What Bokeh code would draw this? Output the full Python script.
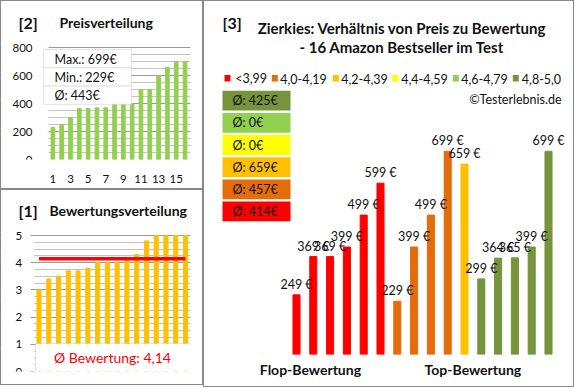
from bokeh.plotting import figure
from bokeh.models import Range1d, FixedTicker, Label, LabelSet, BoxAnnotation, ColumnDataSource
from bokeh.layouts import row, column
from bokeh.embed import file_html
from bokeh.resources import INLINE
from bokeh.core.properties import value

# ---------------- data ----------------
rank = list(range(1, 17))
prices_sorted = [229, 249, 299, 364, 365, 369, 369, 399, 399, 399, 499, 499, 599, 659, 699, 699]
ratings_sorted = [3.0, 3.4, 3.5, 3.7, 3.7, 3.8, 4.0, 4.0, 4.0, 4.1, 4.3, 4.8, 5.0, 5.0, 5.0, 5.0]
price_ticks = [0, 200, 400, 600, 800]
rank_ticks = [1, 3, 5, 7, 9, 11, 13, 15]
rating_ticks = [0, 1, 2, 3, 4, 5]

group_labels = ["<3,99", "4,0-4,19", "4,2-4,39", "4,4-4,59", "4,6-4,79", "4,8-5,0"]
group_colors = ["#FF0000", "#E46C0A", "#FFC000", "#FFFF00", "#92D050", "#77933C"]
main_prices = [249, 369, 369, 399, 499, 599, 229, 399, 499, 699, 659, 299, 364, 365, 399, 699]
main_groups = [0, 0, 0, 0, 0, 0, 1, 1, 1, 1, 2, 5, 5, 5, 5, 5]
axis_names = ["Flop-Bewertung", "Top-Bewertung"]

FONT = "Lato"
TXT = "#111111"
BORDER_CSS = {"border": "1px solid #888888"}


def canvas_label(p, x, y, text, size, bold=False, color=TXT, align="left"):
    p.add_layout(Label(x=x, y=y, x_units="canvas", y_units="canvas", text=text,
                       text_font=FONT, text_font_size=size,
                       text_font_style="bold" if bold else "normal",
                       text_color=color, text_align=align, text_baseline="middle"))


def canvas_box(p, l, r, t, b, fill=None, line="#a6a6a6", lw=1.0, l_units="canvas", level="annotation"):
    kw = dict(fill_color=fill, fill_alpha=1.0 if fill else 0.0,
              line_color=line, line_width=lw, level=level)
    if t is not None:
        kw.update(top=t, top_units="canvas")
    if b is not None:
        kw.update(bottom=b, bottom_units="canvas")
    if l is not None:
        kw.update(left=l, left_units=l_units)
    if r is not None:
        kw.update(right=r, right_units="canvas" if l_units == "canvas" or True else l_units)
    p.add_layout(BoxAnnotation(**kw))


def base_fig(w, h, xr, yr, bl, br, bt, bb, **kw):
    p = figure(width=w, height=h, x_range=xr, y_range=yr, output_backend="svg",
               toolbar_location=None, min_border_left=bl, min_border_right=br,
               min_border_top=bt, min_border_bottom=bb, styles=BORDER_CSS, **kw)
    p.outline_line_color = None
    p.background_fill_color = "white"
    p.border_fill_color = "white"
    return p


def style_axis(ax, size="11.5px", bold=False):
    ax.major_label_text_font = FONT
    ax.major_label_text_font_size = size
    ax.major_label_text_font_style = "bold" if bold else "normal"
    ax.major_label_text_color = TXT
    ax.axis_line_color = None
    ax.minor_tick_line_color = None


def mask_left_of_plot(p, x_edge):
    # white underlay box hiding grid lines left of the plot area (axes are drawn above it)
    p.add_layout(BoxAnnotation(right=x_edge, fill_color="white", fill_alpha=1.0,
                               line_color=None, level="underlay"))


# ---------------- panel [2] Preisverteilung ----------------
W2, H2 = 203, 189
FR_RIGHT = 189                       # frame right edge (both left panels)
B1_PX, B16_PX = 51.4, 183.5          # centres of first / last bar in canvas px
TOPVAL_PX, BOTTOM_PX = 46, 158
step2 = (B16_PX - B1_PX) / 15
x2_start = rank[0] - B1_PX / step2
x2_end = rank[-1] + (FR_RIGHT - B16_PX) / step2
y2_end = price_ticks[-1] * BOTTOM_PX / (BOTTOM_PX - TOPVAL_PX)
p2 = base_fig(W2, H2, Range1d(x2_start, x2_end), Range1d(0, y2_end), 0, W2 - FR_RIGHT, 0, H2 - BOTTOM_PX)
p2.vbar(x=rank, top=prices_sorted, width=0.42, color="#92D050")
yt2 = FixedTicker(ticks=price_ticks, minor_ticks=list(range(0, price_ticks[-1] + 1, 50)))
p2.yaxis.ticker = yt2
p2.ygrid.ticker = yt2
p2.ygrid.grid_line_color = "#9a9a9a"
p2.ygrid.minor_grid_line_color = "#c4c4c4"
p2.xgrid.grid_line_color = None
p2.xaxis.ticker = FixedTicker(ticks=rank_ticks)
for ax in (p2.xaxis[0], p2.yaxis[0]):
    style_axis(ax)
    ax.major_tick_line_color = None
    ax.major_tick_out = 0
    ax.major_tick_in = 0
p2.yaxis.fixed_location = rank[0] - 0.5
p2.yaxis.major_label_standoff = 12
p2.xaxis.major_label_standoff = 15
mask_left_of_plot(p2, rank[0] - 0.5)

canvas_label(p2, 16, 20, "[2]", "16px", bold=True)
canvas_label(p2, 57, 20, "Preisverteilung", "14px", bold=True)
p_max, p_min = max(prices_sorted), min(prices_sorted)
p_avg = int(sum(prices_sorted) / len(prices_sorted) + 0.5)
info = [f"Max.: {p_max}€", f"Min.: {p_min}€", f"Ø: {p_avg}€"]
for i, t in enumerate(info):
    top = 47 + i * 18.3
    canvas_box(p2, 41, 129, top, top + 18.3, fill="white")
    canvas_label(p2, 52, top + 9.5, t, "12.5px")

# ---------------- panel [1] Bewertungsverteilung ----------------
W1, H1 = 203, 196
C1_PX, C16_PX = 37.5, 184.0
TOP5_PX, BOTTOM1_PX = 45, 181
step1 = (C16_PX - C1_PX) / 15
x1_start = rank[0] - C1_PX / step1
x1_end = rank[-1] + (FR_RIGHT - C16_PX) / step1
y1_end = rating_ticks[-1] * BOTTOM1_PX / (BOTTOM1_PX - TOP5_PX)
p1 = base_fig(W1, H1, Range1d(x1_start, x1_end), Range1d(0, y1_end), 0, W1 - FR_RIGHT, 0, H1 - BOTTOM1_PX,
              x_axis_location=None)
p1.vbar(x=rank, top=ratings_sorted, width=0.42, color="#FFC000")
r_avg = sum(ratings_sorted) / len(ratings_sorted)
p1.line(x=[rank[0], rank[-1]], y=[r_avg, r_avg], line_color="#FF0000", line_width=3.5)
yt1 = FixedTicker(ticks=rating_ticks, minor_ticks=[i * 0.25 for i in range(4 * rating_ticks[-1] + 1)])
p1.yaxis.ticker = yt1
p1.ygrid.ticker = yt1
p1.ygrid.grid_line_color = "#9a9a9a"
p1.ygrid.minor_grid_line_color = "#c4c4c4"
p1.xgrid.grid_line_color = None
style_axis(p1.yaxis[0])
p1.yaxis.fixed_location = rank[0] - 0.5
p1.yaxis.major_tick_line_color = "#9a9a9a"
p1.yaxis.major_tick_out = 4
p1.yaxis.major_tick_in = 0
p1.yaxis.major_label_standoff = 8
mask_left_of_plot(p1, rank[0] - 0.5)

canvas_label(p1, 16, 18.5, "[1]", "16px", bold=True)
canvas_label(p1, 47, 18.5, "Bewertungsverteilung", "14px", bold=True)
canvas_box(p1, 33, 190, 152, 181, fill="white")
canvas_label(p1, 110, 166, "Ø Bewertung: " + f"{r_avg:.2f}".replace(".", ","), "14px",
             color="#FF0000", align="center")

# ---------------- panel [3] main chart ----------------
W3, H3 = 371, 387
FIRST_BAR_PX, BAR_STEP_PX = 92.0, 16.8
BASE_Y_PX, BASE_VAL, PX_PER_EUR = 353.0, 62.0, 0.319
x3_start = 1 - FIRST_BAR_PX / BAR_STEP_PX
x3_end = x3_start + W3 / BAR_STEP_PX
y3_end = BASE_VAL + BASE_Y_PX / PX_PER_EUR
p3 = base_fig(W3, H3, Range1d(x3_start, x3_end), Range1d(BASE_VAL, y3_end), 0, 0, 0,
              int(H3 - BASE_Y_PX), y_axis_location=None)
pos = list(range(1, len(main_prices) + 1))
for g, col in enumerate(group_colors):
    xs = [x for x, gg in zip(pos, main_groups) if gg == g]
    ys = [v for v, gg in zip(main_prices, main_groups) if gg == g]
    p3.vbar(x=xs, top=ys, bottom=0, width=0.42, color=col)
lab_src = ColumnDataSource(dict(x=pos, y=main_prices, t=[f"{v} €" for v in main_prices]))
p3.add_layout(LabelSet(x="x", y="y", text="t", source=lab_src, y_offset=3,
                       text_align="center", text_baseline="bottom",
                       text_font=value(FONT), text_font_size="12.5px", text_color=TXT))
p3.xgrid.grid_line_color = None
p3.ygrid.grid_line_color = None
axis_pos = [1.83, 11.5]
p3.xaxis.ticker = FixedTicker(ticks=axis_pos)
p3.xaxis.major_label_overrides = {axis_pos[0]: axis_names[0], axis_pos[1]: axis_names[1]}
style_axis(p3.xaxis[0], size="14px", bold=True)
p3.xaxis.major_tick_line_color = None
p3.xaxis.major_tick_out = 0
p3.xaxis.major_label_standoff = 6

canvas_label(p3, 17, 20, "[3]", "16px", bold=True)
canvas_label(p3, 196.5, 25, "Zierkies: Verhältnis von Preis zu Bewertung", "15px", bold=True, align="center")
canvas_label(p3, 196.5, 44, "- 16 Amazon Bestseller im Test", "15px", bold=True, align="center")

legend_sq_x = [19, 66.3, 127.3, 186.7, 247.3, 307.3]
legend_tx_x = [29.7, 74.7, 135.7, 195.7, 255.7, 316.3]
for i, (lab, col) in enumerate(zip(group_labels, group_colors)):
    canvas_box(p3, legend_sq_x[i], legend_sq_x[i] + 6, 72.5, 79, fill=col, line=None, lw=0)
    canvas_label(p3, legend_tx_x[i], 76, lab, "12.5px")
canvas_label(p3, 356, 97, "©Testerlebnis.de", "12.5px", align="right")

for row_i, g in enumerate(reversed(range(len(group_labels)))):
    vals = [v for v, gg in zip(main_prices, main_groups) if gg == g]
    avg = int(sum(vals) / len(vals) + 0.5) if vals else 0
    top = 88.3 + row_i * 22.15
    canvas_box(p3, 17, 85, top, top + 19.8, fill=group_colors[g], line=None, lw=0)
    canvas_label(p3, 27, top + 10, f"Ø: {avg}€", "12.5px", color="#111111")

layout = row(column(p2, p1), p3)
open("out.html", "w").write(file_html(layout, INLINE))
